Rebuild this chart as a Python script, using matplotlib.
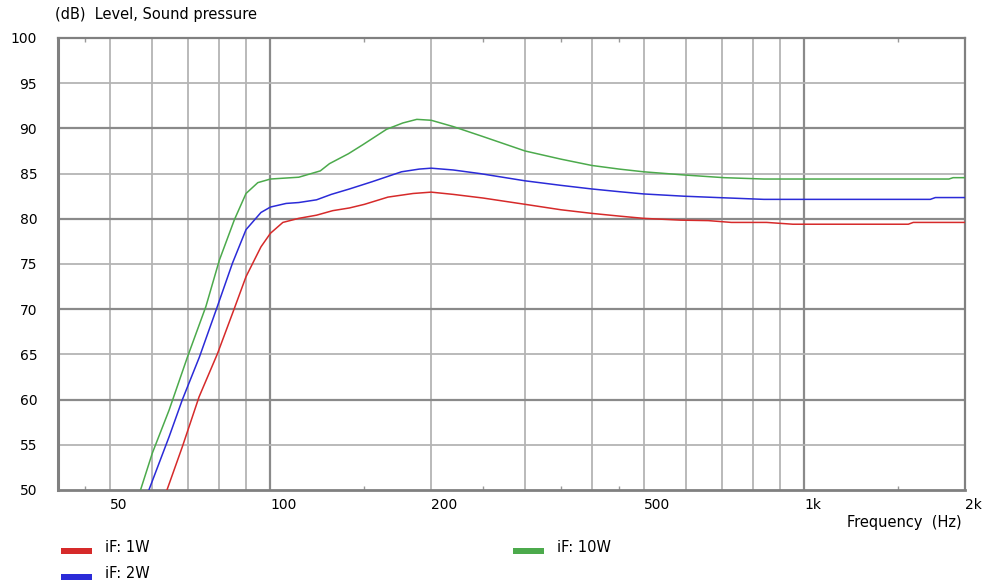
import numpy as np
import matplotlib
matplotlib.use('Agg')
import matplotlib.pyplot as plt
from matplotlib.patches import Rectangle

# Measured SPL responses (Hz, dB)
freq_1w = [64, 68.4, 73.5, 79.6, 85.6, 90, 96, 100, 105.5, 113, 122, 130.8, 140.6, 150, 166, 185, 200,
           220, 250, 300, 350, 400, 450, 500, 587, 661, 730, 850, 952, 1250, 1566, 1600, 2000]
spl_1w = [50, 54.8, 60.3, 65.1, 70.1, 73.6, 76.9, 78.4, 79.6, 80.05, 80.4, 80.9, 81.2, 81.6, 82.4, 82.8, 82.95,
          82.7, 82.3, 81.6, 81.0, 80.6, 80.3, 80.05, 79.85, 79.8, 79.6, 79.6, 79.4, 79.4, 79.4, 79.6, 79.6]

freq_2w = [59.2, 64.6, 68.4, 73.6, 79.1, 84.9, 90, 96, 100, 107, 113, 122, 130, 140.6, 155, 176, 190, 200,
           220, 247, 300, 350, 400, 450, 500, 595, 688, 840, 1000, 1400, 1722, 1760, 2000]
spl_2w = [50, 55.9, 60, 64.7, 69.9, 75.1, 78.8, 80.7, 81.3, 81.7, 81.8, 82.1, 82.7, 83.3, 84.1, 85.2, 85.5, 85.6,
          85.4, 85.0, 84.2, 83.7, 83.3, 83.0, 82.75, 82.5, 82.35, 82.15, 82.15, 82.15, 82.15, 82.35, 82.35]

freq_10w = [57.1, 60.1, 64.6, 69.9, 75.7, 80.2, 85.6, 90, 94.7, 100, 113, 124, 129, 140, 149, 165, 177, 188,
            200, 220, 250, 300, 350, 400, 450, 500, 595, 707, 840, 1000, 1400, 1866, 1900, 2000]
spl_10w = [50, 54.1, 58.85, 64.7, 70.3, 75.4, 79.9, 82.8, 84.0, 84.4, 84.6, 85.3, 86.1, 87.2, 88.2, 89.9, 90.6, 91.0,
           90.9, 90.2, 89.1, 87.5, 86.6, 85.9, 85.5, 85.2, 84.85, 84.55, 84.4, 84.4, 84.4, 84.4, 84.55, 84.55]

labels = ['iF: 1W', 'iF: 2W', 'iF: 10W']
colors = ['#d62a2a', '#2b2bd8', '#4caa4c']
series = [(freq_1w, spl_1w), (freq_2w, spl_2w), (freq_10w, spl_10w)]

grid_freqs = [50, 60, 70, 80, 90, 100, 200, 300, 400, 500, 600, 700, 800, 900, 1000]
decade_freqs = [100, 1000]
label_freqs = [50, 100, 200, 500, 1000, 2000]
label_text = ['50', '100', '200', '500', '1k', '2k']
small_ticks = [45, 150, 250, 350, 450, 1500]
db_ticks = np.arange(50, 101, 5)

fig = plt.figure(figsize=(9.84, 5.83), dpi=100)
ax = fig.add_axes([58 / 984, 93 / 583, 907 / 984, 452 / 583])
ax.set_xscale('log')
ax.set_xlim(40, 2000)
ax.set_ylim(50, 100)

# grid
for f in grid_freqs:
    dark = f in decade_freqs
    ax.axvline(f, color='#8a8a8a' if dark else '#b4b4b4', lw=1.6 if dark else 1.3, zorder=1)
for d in db_ticks[1:-1]:
    dark = d % 10 == 0
    ax.axhline(d, color='#8a8a8a' if dark else '#b4b4b4', lw=1.6 if dark else 1.3, zorder=1)

for (f, s), c in zip(series, colors):
    ax.plot(f, s, color=c, lw=1.1, zorder=3)

ax.set_xticks(label_freqs)
ax.set_xticklabels(label_text)
ax.set_xticks(small_ticks, minor=True)
ax.xaxis.set_minor_formatter(plt.NullFormatter())
ax.tick_params(axis='x', which='major', length=0, pad=6, labelsize=10, colors='#000000')
ax.tick_params(axis='x', which='minor', length=3, direction='in', top=True, bottom=True,
               color='#999999', width=1)
for lbl in ax.get_xticklabels():
    lbl.set_horizontalalignment('left')

ax.set_yticks(db_ticks)
ax.tick_params(axis='y', length=0, pad=15, labelsize=10)

for sp in ax.spines.values():
    sp.set_color('#808080')
    sp.set_linewidth(1.6)
ax.spines['left'].set_linewidth(2.2)
ax.spines['bottom'].set_linewidth(2.0)

fig.text(55 / 984, 1 - 15 / 583, '(dB)  Level, Sound pressure', fontsize=10.5, va='center', ha='left')
fig.text(962 / 984, 1 - 522 / 583, 'Frequency  (Hz)', fontsize=10.5, va='center', ha='right')

# legend entries
legend_pos = [(61, 551), (61, 577), (513, 551)]
for (x, y), lab, c in zip(legend_pos, labels, colors):
    fig.add_artist(Rectangle((x / 984, 1 - (y + 3) / 583), 31 / 984, 6 / 583,
                             transform=fig.transFigure, color=c, lw=0))
    fig.text((x + 44) / 984, 1 - (y - 4) / 583, lab, fontsize=10.5, va='center', ha='left')

fig.savefig('out.png', dpi=100)
